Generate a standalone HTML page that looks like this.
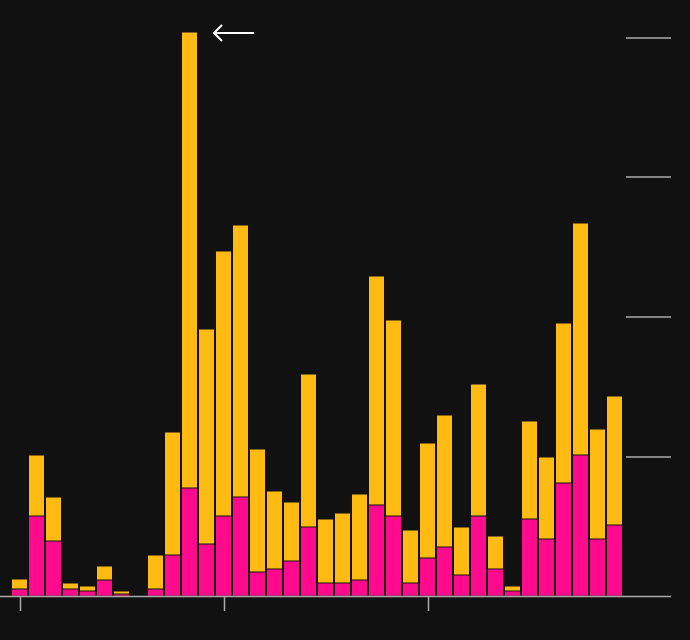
<!DOCTYPE html>
<html><head><meta charset="utf-8"><style>
html,body{margin:0;padding:0;background:#111;}
svg{display:block;}
</style></head><body>
<svg width="690" height="640" viewBox="0 0 690 640" xmlns="http://www.w3.org/2000/svg">
<rect width="690" height="640" fill="#111"/>
<g stroke="#aaa" stroke-width="1.5">
<line x1="626" y1="38" x2="671" y2="38"/>
<line x1="626" y1="177" x2="671" y2="177"/>
<line x1="626" y1="317" x2="671" y2="317"/>
<line x1="626" y1="457" x2="671" y2="457"/>
</g>
<g stroke="#111" stroke-width="1">
<rect x="11.5" y="579" width="16" height="10" fill="#ffbb11"/><rect x="11.5" y="589" width="16" height="7" fill="#ff0a8c"/>
<rect x="28.5" y="455" width="16" height="61" fill="#ffbb11"/><rect x="28.5" y="516" width="16" height="80" fill="#ff0a8c"/>
<rect x="45.5" y="497" width="16" height="44" fill="#ffbb11"/><rect x="45.5" y="541" width="16" height="55" fill="#ff0a8c"/>
<rect x="62.5" y="583" width="16" height="6" fill="#ffbb11"/><rect x="62.5" y="589" width="16" height="7" fill="#ff0a8c"/>
<rect x="79.5" y="586" width="16" height="5" fill="#ffbb11"/><rect x="79.5" y="591" width="16" height="5" fill="#ff0a8c"/>
<rect x="96.5" y="566" width="16" height="14" fill="#ffbb11"/><rect x="96.5" y="580" width="16" height="16" fill="#ff0a8c"/>
<rect x="113.5" y="591" width="16" height="3" fill="#ffbb11"/><rect x="113.5" y="594" width="16" height="2" fill="#ff0a8c"/>
<rect x="147.5" y="555" width="16" height="34" fill="#ffbb11"/><rect x="147.5" y="589" width="16" height="7" fill="#ff0a8c"/>
<rect x="164.5" y="432" width="16" height="123" fill="#ffbb11"/><rect x="164.5" y="555" width="16" height="41" fill="#ff0a8c"/>
<rect x="181.5" y="32" width="16" height="456" fill="#ffbb11"/><rect x="181.5" y="488" width="16" height="108" fill="#ff0a8c"/>
<rect x="198.5" y="329" width="16" height="215" fill="#ffbb11"/><rect x="198.5" y="544" width="16" height="52" fill="#ff0a8c"/>
<rect x="215.5" y="251" width="16" height="265" fill="#ffbb11"/><rect x="215.5" y="516" width="16" height="80" fill="#ff0a8c"/>
<rect x="232.5" y="225" width="16" height="272" fill="#ffbb11"/><rect x="232.5" y="497" width="16" height="99" fill="#ff0a8c"/>
<rect x="249.5" y="449" width="16" height="123" fill="#ffbb11"/><rect x="249.5" y="572" width="16" height="24" fill="#ff0a8c"/>
<rect x="266.5" y="491" width="16" height="78" fill="#ffbb11"/><rect x="266.5" y="569" width="16" height="27" fill="#ff0a8c"/>
<rect x="283.5" y="502" width="16" height="59" fill="#ffbb11"/><rect x="283.5" y="561" width="16" height="35" fill="#ff0a8c"/>
<rect x="300.5" y="374" width="16" height="153" fill="#ffbb11"/><rect x="300.5" y="527" width="16" height="69" fill="#ff0a8c"/>
<rect x="317.5" y="519" width="16" height="64" fill="#ffbb11"/><rect x="317.5" y="583" width="16" height="13" fill="#ff0a8c"/>
<rect x="334.5" y="513" width="16" height="70" fill="#ffbb11"/><rect x="334.5" y="583" width="16" height="13" fill="#ff0a8c"/>
<rect x="351.5" y="494" width="16" height="86" fill="#ffbb11"/><rect x="351.5" y="580" width="16" height="16" fill="#ff0a8c"/>
<rect x="368.5" y="276" width="16" height="229" fill="#ffbb11"/><rect x="368.5" y="505" width="16" height="91" fill="#ff0a8c"/>
<rect x="385.5" y="320" width="16" height="196" fill="#ffbb11"/><rect x="385.5" y="516" width="16" height="80" fill="#ff0a8c"/>
<rect x="402.5" y="530" width="16" height="53" fill="#ffbb11"/><rect x="402.5" y="583" width="16" height="13" fill="#ff0a8c"/>
<rect x="419.5" y="443" width="16" height="115" fill="#ffbb11"/><rect x="419.5" y="558" width="16" height="38" fill="#ff0a8c"/>
<rect x="436.5" y="415" width="16" height="132" fill="#ffbb11"/><rect x="436.5" y="547" width="16" height="49" fill="#ff0a8c"/>
<rect x="453.5" y="527" width="16" height="48" fill="#ffbb11"/><rect x="453.5" y="575" width="16" height="21" fill="#ff0a8c"/>
<rect x="470.5" y="384" width="16" height="132" fill="#ffbb11"/><rect x="470.5" y="516" width="16" height="80" fill="#ff0a8c"/>
<rect x="487.5" y="536" width="16" height="33" fill="#ffbb11"/><rect x="487.5" y="569" width="16" height="27" fill="#ff0a8c"/>
<rect x="504.5" y="586" width="16" height="5" fill="#ffbb11"/><rect x="504.5" y="591" width="16" height="5" fill="#ff0a8c"/>
<rect x="521.5" y="421" width="16" height="98" fill="#ffbb11"/><rect x="521.5" y="519" width="16" height="77" fill="#ff0a8c"/>
<rect x="538.5" y="457" width="16" height="82" fill="#ffbb11"/><rect x="538.5" y="539" width="16" height="57" fill="#ff0a8c"/>
<rect x="555.5" y="323" width="16" height="160" fill="#ffbb11"/><rect x="555.5" y="483" width="16" height="113" fill="#ff0a8c"/>
<rect x="572.5" y="223" width="16" height="232" fill="#ffbb11"/><rect x="572.5" y="455" width="16" height="141" fill="#ff0a8c"/>
<rect x="589.5" y="429" width="16" height="110" fill="#ffbb11"/><rect x="589.5" y="539" width="16" height="57" fill="#ff0a8c"/>
<rect x="606.5" y="396" width="16" height="129" fill="#ffbb11"/><rect x="606.5" y="525" width="16" height="71" fill="#ff0a8c"/>
</g>
<g stroke="#aaa" stroke-width="1.5">
<line x1="0" y1="596.5" x2="671" y2="596.5"/>
<line x1="20.5" y1="596" x2="20.5" y2="611"/>
<line x1="224.5" y1="596" x2="224.5" y2="611"/>
<line x1="428.5" y1="596" x2="428.5" y2="611"/>
</g>
<g stroke="#fff" stroke-width="2" fill="none">
<line x1="214" y1="33" x2="254" y2="33"/>
<polyline points="222,25 214,33 222,41"/>
</g>
</svg>
</body></html>
